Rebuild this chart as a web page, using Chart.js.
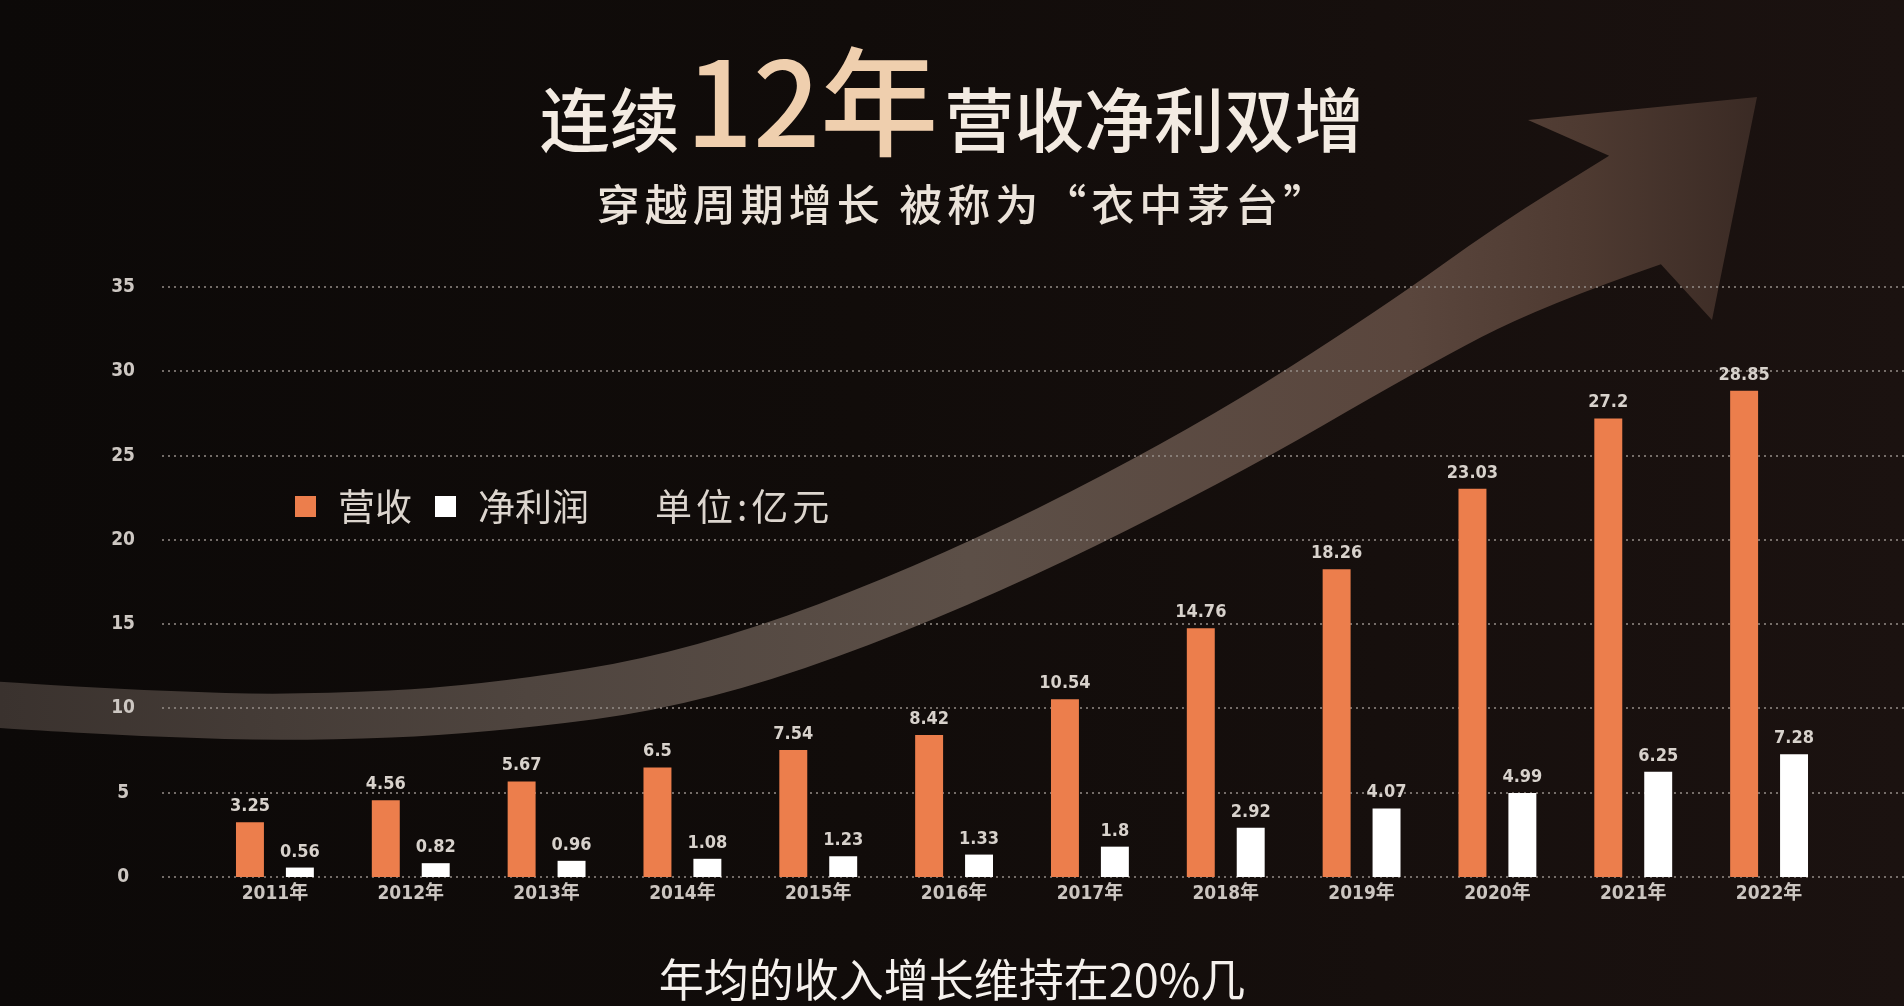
<!DOCTYPE html>
<html lang="zh-CN">
<head>
<meta charset="utf-8">
<title>连续12年营收净利双增</title>
<script src="https://cdn.jsdelivr.net/npm/chart.js@4.4.1/dist/chart.umd.min.js"></script>
<style>
  html, body { margin: 0; padding: 0; width: 1904px; height: 1006px; overflow: hidden; }
  body {
    position: relative;
    background: linear-gradient(90deg, #0c0908 0%, #110c0a 45%, #1b1210 100%);
    font-family: 'Noto Sans CJK SC', sans-serif;
  }
  #wrap { position: absolute; left: 0; top: 0; width: 1904px; height: 1006px; }
  .txt { position: absolute; left: 0; width: 1904px; text-align: center; white-space: nowrap; }
  #title { top: 10px; font-size: 70px; font-weight: 500; color: #f3ebe2; }
  #title .big { font-size: 118px; color: #efcfae; margin: 0 6px; }
  #sub { top: 171px; left: 12px; font-size: 43px; font-weight: 500; color: #ebe3da; letter-spacing: 5px; }
  #cap { top: 945px; font-size: 45px; color: #f5f1ed; }
</style>
</head>
<body>
<div id="wrap"><canvas id="chart"></canvas></div>
<div id="title" class="txt">连续<span class="big">12年</span>营收净利双增</div>
<div id="sub" class="txt">穿越周期增长 被称为“衣中茅台”</div>
<div id="cap" class="txt">年均的收入增长维持在20%几</div>
<script>
const years = ['2011年', '2012年', '2013年', '2014年', '2015年', '2016年',
               '2017年', '2018年', '2019年', '2020年', '2021年', '2022年']
const revenue = [3.25, 4.56, 5.67, 6.5, 7.54, 8.42, 10.54, 14.76, 18.26, 23.03, 27.2, 28.85]
const profit = [0.56, 0.82, 0.96, 1.08, 1.23, 1.33, 1.8, 2.92, 4.07, 4.99, 6.25, 7.28]
const seriesNames = ['营收', '净利润']
const unitText = '单位:亿元'
const yMax = 35
const yStep = 5

const numFont = "'DejaVu Sans Condensed', 'Noto Sans CJK SC', sans-serif"

// big curved arrow + dotted grid, painted before the axes so tick labels stay on top
const arrowPlugin = {
  id: 'arrow',
  beforeDraw(chart) {
    const ctx = chart.ctx
    const pts = [[-40, 702], [0, 705], [150, 714], [300, 718], [480, 710], [700, 678],
                 [955, 583], [1210, 455], [1402, 338], [1520, 265], [1635, 210]]
    const w = [46, 46, 46, 46, 48, 55, 57, 62, 72, 92, 120]
    const up = [], lo = []
    for (let i = 0; i < pts.length; i++) {
      const a = pts[Math.max(i - 1, 0)], b = pts[Math.min(i + 1, pts.length - 1)]
      let tx = b[0] - a[0], ty = b[1] - a[1]
      const l = Math.hypot(tx, ty)
      tx /= l; ty /= l
      const h = w[i] / 2
      up.push([pts[i][0] + ty * h, pts[i][1] - tx * h])
      lo.push([pts[i][0] - ty * h, pts[i][1] + tx * h])
    }
    const n = pts.length
    ctx.save()
    ctx.beginPath()
    ctx.moveTo(up[0][0], up[0][1])
    for (let i = 1; i < n - 1; i++) {
      ctx.quadraticCurveTo(up[i][0], up[i][1], (up[i][0] + up[i + 1][0]) / 2, (up[i][1] + up[i + 1][1]) / 2)
    }
    ctx.lineTo(up[n - 1][0], up[n - 1][1])
    ctx.lineTo(1528, 120)
    ctx.lineTo(1757, 97)
    ctx.lineTo(1712, 320)
    ctx.lineTo(lo[n - 1][0], lo[n - 1][1])
    for (let i = n - 2; i > 0; i--) {
      ctx.quadraticCurveTo(lo[i][0], lo[i][1], (lo[i][0] + lo[i - 1][0]) / 2, (lo[i][1] + lo[i - 1][1]) / 2)
    }
    ctx.lineTo(lo[0][0], lo[0][1])
    ctx.closePath()
    const g = ctx.createLinearGradient(0, 0, 1760, 0)
    g.addColorStop(0, '#3a322e')
    g.addColorStop(0.3, '#4f453f')
    g.addColorStop(0.55, '#5c4f47')
    g.addColorStop(0.8, '#5a463d')
    g.addColorStop(0.9, '#4e3a31')
    g.addColorStop(1, '#3a2a24')
    ctx.fillStyle = g
    ctx.fill()

    const ys = chart.scales.y
    ctx.setLineDash([2, 4])
    ctx.strokeStyle = 'rgba(150,142,136,0.75)'
    ctx.lineWidth = 2
    ys.ticks.forEach((t, i) => {
      const y = Math.round(ys.getPixelForTick(i))
      ctx.beginPath()
      ctx.moveTo(162, y)
      ctx.lineTo(1904, y)
      ctx.stroke()
    })
    ctx.restore()
  }
}

const valueLabels = {
  id: 'valueLabels',
  afterDatasetsDraw(chart) {
    const ctx = chart.ctx
    ctx.save()
    ctx.font = 'bold 18px ' + numFont
    ctx.fillStyle = '#d8d2cc'
    ctx.textAlign = 'center'
    ctx.textBaseline = 'alphabetic'
    chart.data.datasets.forEach((ds, di) => {
      chart.getDatasetMeta(di).data.forEach((bar, i) => {
        ctx.fillText(String(ds.data[i]), bar.x, bar.y - 11)
      })
    })
    ctx.restore()
  }
}

const legendPlugin = {
  id: 'inlineLegend',
  afterDraw(chart) {
    const ctx = chart.ctx
    ctx.save()
    ctx.font = '37px "Noto Sans CJK SC", sans-serif'
    ctx.textBaseline = 'middle'
    let x = 295
    const y = 507
    chart.data.datasets.forEach(ds => {
      ctx.fillStyle = ds.backgroundColor
      ctx.fillRect(x, y - 11, 21, 21)
      x += 43
      ctx.fillStyle = '#dcd5ce'
      ctx.fillText(ds.label, x, y)
      x += ctx.measureText(ds.label).width + 23
    })
    ctx.letterSpacing = '4px'
    ctx.fillText(unitText, x + 43, y)
    ctx.restore()
  }
}

new Chart(document.getElementById('chart'), {
  type: 'bar',
  data: {
    labels: years,
    datasets: [
      { label: seriesNames[0], data: revenue, backgroundColor: '#ec7e4c',
        categoryPercentage: 0.735, barPercentage: 0.56 },
      { label: seriesNames[1], data: profit, backgroundColor: '#ffffff',
        categoryPercentage: 0.735, barPercentage: 0.56 }
    ]
  },
  options: {
    responsive: true,
    maintainAspectRatio: false,
    animation: false,
    layout: { padding: { left: 45, right: 67, top: 287, bottom: 89 } },
    plugins: { legend: { display: false }, tooltip: { enabled: false } },
    scales: {
      x: {
        grid: { display: false, drawTicks: false },
        border: { display: false },
        ticks: { color: '#cbc5c0', font: { family: numFont, size: 19, weight: 'bold' }, padding: 6 },
        afterFit(s) { s.height = 40 }
      },
      y: {
        min: 0,
        max: yMax,
        grid: { display: false, drawTicks: false },
        border: { display: false },
        ticks: { stepSize: yStep, color: '#cdc7c2', font: { family: numFont, size: 19, weight: 'bold' },
                 padding: 72, crossAlign: 'center' },
        afterFit(s) { s.width = 162 }
      }
    }
  },
  plugins: [arrowPlugin, valueLabels, legendPlugin]
})
</script>
</body>
</html>
